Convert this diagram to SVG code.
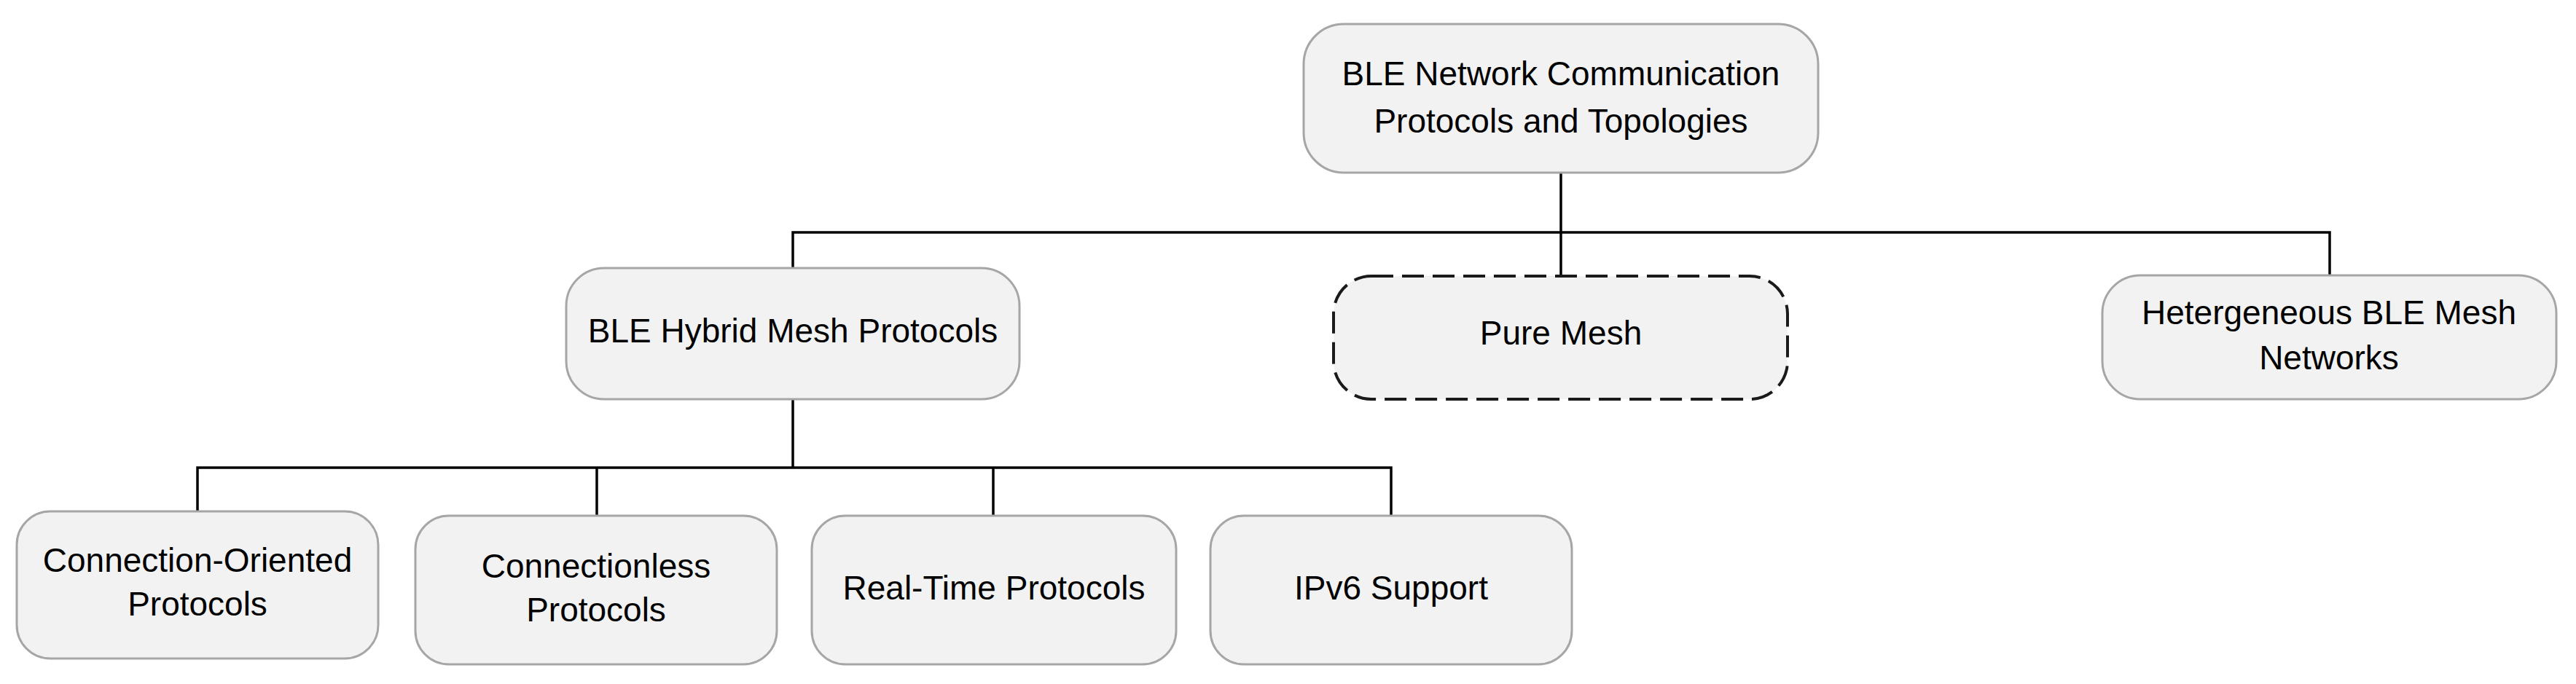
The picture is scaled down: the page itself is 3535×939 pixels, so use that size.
<svg xmlns="http://www.w3.org/2000/svg" width="3535" height="939" viewBox="0 0 3535 939">
<style>
.box{fill:#f2f2f2;stroke:#a6a6a6;stroke-width:3}
.dash{fill:#f2f2f2;stroke:#1a1a1a;stroke-width:4;stroke-dasharray:30 12}
.lbl{font-family:"Liberation Sans",Arial,sans-serif;font-size:46px;fill:#000;text-anchor:middle}
.conn{fill:none;stroke:#000;stroke-width:3.5}
</style>
<rect width="3535" height="939" fill="#ffffff"/>
<g id="connectors">
<path class="conn" d="M2142 237 V378"/>
<path class="conn" d="M1088 368 V319 H3197 V378"/>
<path class="conn" d="M1088 548 V642"/>
<path class="conn" d="M271 702 V642 H1909 V708"/>
<path class="conn" d="M819 642 V708"/>
<path class="conn" d="M1363 642 V708"/>
</g>
<g id="root">
<rect class="box" x="1789" y="33" width="706" height="204" rx="55" ry="55"/>
<text class="lbl" x="2142" y="117">BLE Network Communication</text>
<text class="lbl" x="2142" y="182">Protocols and Topologies</text>
</g>
<g id="hybrid">
<rect class="box" x="777" y="368" width="622" height="180" rx="52" ry="52"/>
<text class="lbl" x="1088" y="470">BLE Hybrid Mesh Protocols</text>
</g>
<g id="pure-mesh">
<rect class="dash" x="1830" y="379" width="623" height="169" rx="52" ry="52"/>
<text class="lbl" x="2142" y="473">Pure Mesh</text>
</g>
<g id="heterogeneous">
<rect class="box" x="2885" y="378" width="623" height="170" rx="52" ry="52"/>
<text class="lbl" x="3196" y="445">Hetergeneous BLE Mesh</text>
<text class="lbl" x="3196" y="507">Networks</text>
</g>
<g id="connection-oriented">
<rect class="box" x="23" y="702" width="496" height="202" rx="46" ry="46"/>
<text class="lbl" x="271" y="785">Connection-Oriented</text>
<text class="lbl" x="271" y="845">Protocols</text>
</g>
<g id="connectionless">
<rect class="box" x="570" y="708" width="496" height="204" rx="46" ry="46"/>
<text class="lbl" x="818" y="793">Connectionless</text>
<text class="lbl" x="818" y="853">Protocols</text>
</g>
<g id="real-time">
<rect class="box" x="1114" y="708" width="500" height="204" rx="46" ry="46"/>
<text class="lbl" x="1364" y="823">Real-Time Protocols</text>
</g>
<g id="ipv6">
<rect class="box" x="1661" y="708" width="496" height="204" rx="46" ry="46"/>
<text class="lbl" x="1909" y="823">IPv6 Support</text>
</g>
</svg>
